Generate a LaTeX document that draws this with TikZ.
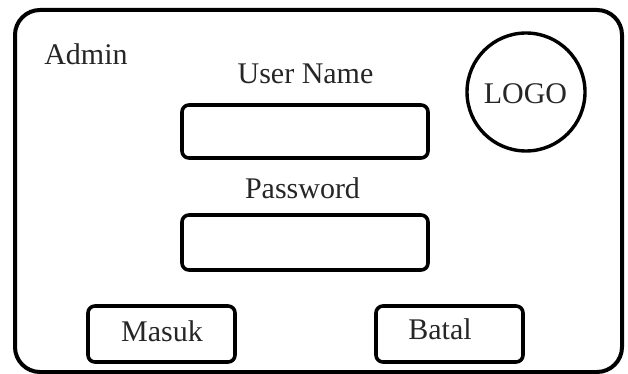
\documentclass[tikz,border=0pt]{standalone}
\usepackage{fontspec}
\setmainfont{Liberation Serif}
\begin{document}
\begin{tikzpicture}[x=1pt,y=-1pt,
  frame/.style={draw=black,line width=4pt,rounded corners=25pt},
  field/.style={draw=black,line width=3.6pt,rounded corners=7pt,inner sep=0pt},
  logo/.style={draw=black,line width=3.4pt,circle,inner sep=0pt,minimum size=118pt},
  lbl/.style={font=\fontsize{30}{36}\selectfont,inner sep=0pt,anchor=base,text=black!85}]
\useasboundingbox (0,0) rectangle (628,374);
\draw[frame] (15,10) rectangle (622,372);
\node[lbl] (admin) at (86,65) {Admin};
\node[lbl] (unamelbl) at (305.5,84) {User Name};
\node[field,minimum width=246pt,minimum height=53pt] (uname) at (305,131.5) {};
\node[lbl] (pwdlbl) at (302.5,198) {Password};
\node[field,minimum width=246pt,minimum height=55pt] (pwd) at (305,242.5) {};
\node[logo] (logo) at (526,92) {};
\node[lbl] (logotxt) at (525.5,104) {LOGO};
\node[field,minimum width=147pt,minimum height=56pt] (masuk) at (161.5,334) {};
\node[lbl] (masuktxt) at (162,341) {Masuk};
\node[field,minimum width=147pt,minimum height=56pt] (batal) at (449.5,334) {};
\node[lbl] (bataltxt) at (440,339) {Batal};
\end{tikzpicture}
\end{document}
